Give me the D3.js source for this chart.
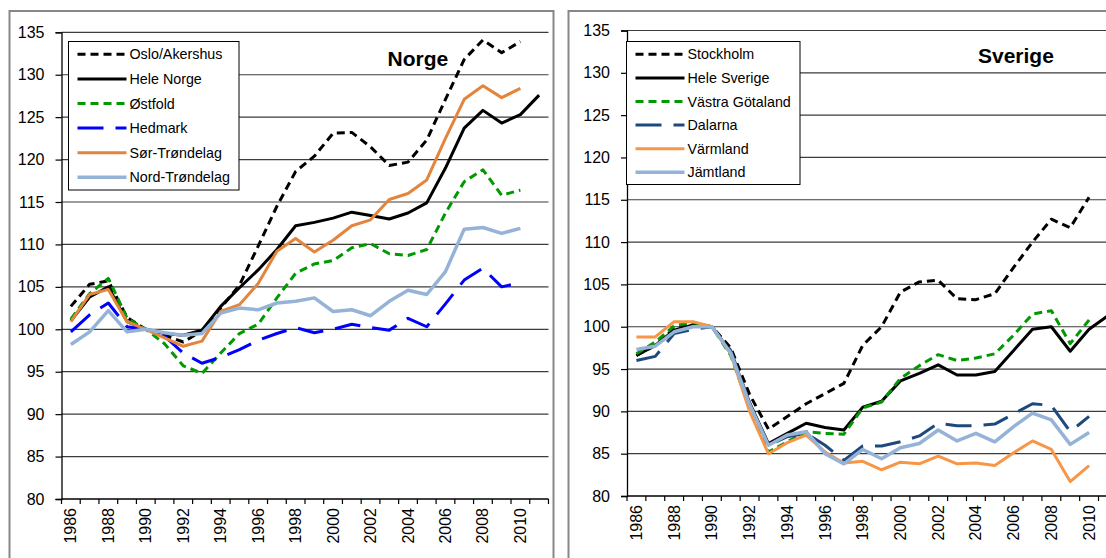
<!DOCTYPE html>
<html><head><meta charset="utf-8">
<script src="https://cdn.jsdelivr.net/npm/d3@7"></script>
<style>
html,body{margin:0;padding:0;background:#fff;}
svg{display:block;font-family:"Liberation Sans",Arial,sans-serif;}
</style></head>
<body>
<svg id="c" width="1106" height="558"></svg>
<script>
// ---------- DATA ----------
const years = d3.range(1986, 2012);
const yTicks = [80, 85, 90, 95, 100, 105, 110, 115, 120, 125, 130, 135];
const xTickLabels = [1986,1988,1990,1992,1994,1996,1998,2000,2002,2004,2006,2008,2010];

const norgeNames = ["Oslo/Akershus","Hele Norge","Østfold","Hedmark","Sør-Trøndelag","Nord-Trøndelag"];
const osloAkershus = [102.7,105.3,105.7,101.4,100,99.3,98.5,99.8,102.5,105.2,109.8,114.5,118.6,120.4,123.1,123.2,121.5,119.3,119.7,122.3,127.1,131.8,134.1,132.6,133.9,null];
const heleNorge    = [101.0,103.8,105.0,100.9,100,99.5,99.3,99.9,102.7,104.9,107.0,109.4,112.2,112.6,113.1,113.8,113.4,113.0,113.7,114.9,119.0,123.7,125.8,124.3,125.3,127.6];
const ostfold      = [101.2,104.2,106.0,101.3,100,98.3,95.7,94.8,97.2,99.5,100.6,103.7,106.6,107.7,108.1,109.6,110.1,108.9,108.7,109.4,113.7,117.4,118.8,115.8,116.4,null];
const hedmark      = [99.7,101.7,103.1,100.3,100,99.2,97.2,96.0,96.7,97.6,98.7,99.5,100.2,99.6,100.0,100.6,100.2,99.9,101.3,100.3,103.0,105.8,107.2,105.0,105.5,null];
const sorTrondelag = [100.9,104.1,104.7,100.9,100,99.0,98.0,98.6,102.1,102.9,105.4,109.2,110.7,109.1,110.5,112.2,112.9,115.3,116.0,117.6,122.5,127.1,128.7,127.3,128.4,null];
const nordTrondelag= [98.2,99.7,102.2,99.7,100,99.6,99.3,99.5,101.9,102.5,102.3,103.1,103.3,103.7,102.1,102.3,101.6,103.3,104.6,104.1,106.8,111.8,112.0,111.3,111.9,null];

const sverigeNames = ["Stockholm","Hele Sverige","Västra Götaland","Dalarna","Värmland","Jämtland"];
const stockholm      = [96.6,97.8,99.8,100.3,100,97.5,92.0,87.9,89.4,90.9,92.1,93.3,97.8,100.0,104.1,105.3,105.5,103.3,103.2,103.9,107.0,110.0,112.7,111.7,115.3,null];
const heleSverige    = [96.6,97.8,99.6,100.2,100,97.0,91.0,86.2,87.4,88.6,88.1,87.8,90.5,91.2,93.6,94.5,95.5,94.3,94.3,94.7,97.2,99.7,100.0,97.1,99.7,101.3];
const vastraGotaland = [96.8,98.2,100.1,100.5,100,96.6,90.4,85.2,86.4,87.6,87.4,87.3,90.4,91.1,93.9,95.4,96.7,96.0,96.3,96.8,99.0,101.5,101.9,98.0,100.8,null];
const dalarna        = [96.0,96.5,99.2,99.7,100,97.2,91.0,86.0,87.0,87.4,86.0,84.2,85.9,85.9,86.4,87.1,88.6,88.3,88.3,88.5,89.7,90.9,90.7,87.6,89.4,null];
const varmland       = [98.8,98.8,100.6,100.6,100,96.8,90.0,85.0,86.3,87.2,85.2,83.9,84.1,83.1,84.0,83.8,84.7,83.8,83.9,83.6,85.1,86.5,85.5,81.7,83.6,null];
const jamtland       = [97.3,97.7,99.4,100.0,100,96.9,90.8,86.0,87.2,87.6,85.0,83.8,85.5,84.4,85.7,86.2,87.8,86.5,87.4,86.4,88.2,89.8,89.0,86.1,87.5,null];

// ---------- STYLES ----------
const styleNorge = [
  {color:"#000000", dash:"8,5", w:3},
  {color:"#000000", dash:null, w:3},
  {color:"#009A00", dash:"8,5", w:3},
  {color:"#0000FF", dash:"26,12", w:3},
  {color:"#E3853C", dash:null, w:3},
  {color:"#95B3D7", dash:null, w:3.5}
];
const styleSverige = [
  {color:"#000000", dash:"8,5", w:3},
  {color:"#000000", dash:null, w:3},
  {color:"#009A00", dash:"8,5", w:3},
  {color:"#1F497D", dash:"26,12", w:3},
  {color:"#F79646", dash:null, w:3},
  {color:"#95B3D7", dash:null, w:3.5}
];

const svg = d3.select("#c");

function chart(cfg){
  const g = svg.append("g");
  // outer chart border
  g.append("rect").attr("x",cfg.bx).attr("y",11).attr("width",cfg.bw).attr("height",700)
    .attr("fill","#fff").attr("stroke","#878787").attr("stroke-width",2);

  const x = d3.scaleBand().domain(years).range([cfg.x0, cfg.x0 + 26*cfg.step]);
  const y = d3.scaleLinear().domain([80,135]).range([cfg.yb, cfg.yt]);

  // gridlines
  g.append("g").selectAll("line").data(yTicks.filter(v=>v>80)).join("line")
    .attr("x1",cfg.x0).attr("x2",cfg.x0+26*cfg.step)
    .attr("y1",d=>y(d)).attr("y2",d=>y(d))
    .attr("stroke","#3c3c3c").attr("stroke-width",1.2);

  // y axis
  const ya = g.append("g").attr("transform",`translate(${cfg.x0},0)`)
    .call(d3.axisLeft(y).tickValues(yTicks).tickSize(6).tickPadding(11).tickFormat(d3.format("d")));
  ya.select(".domain").attr("stroke","#000").attr("stroke-width",1.3);
  ya.selectAll(".tick line").attr("stroke","#000").attr("stroke-width",1.2);
  ya.selectAll("text").attr("font-size",16).attr("fill","#000")
    .attr("font-family","'Liberation Sans',Arial,sans-serif");

  // x axis line + ticks at category boundaries
  const xa = g.append("g");
  xa.append("line").attr("x1",cfg.x0).attr("x2",cfg.x0+26*cfg.step)
    .attr("y1",cfg.yb).attr("y2",cfg.yb).attr("stroke","#000").attr("stroke-width",1.3);
  xa.selectAll("line.t").data(d3.range(0,27)).join("line").attr("class","t")
    .attr("x1",i=>cfg.x0+i*x.step()).attr("x2",i=>cfg.x0+i*x.step())
    .attr("y1",cfg.yb).attr("y2",cfg.yb+5).attr("stroke","#000").attr("stroke-width",1.2);
  xa.selectAll("text").data(xTickLabels).join("text")
    .attr("transform",d=>`translate(${x(d)+x.bandwidth()/2+5.5},${cfg.yb+9}) rotate(-90)`)
    .attr("text-anchor","end").attr("font-size",16).attr("fill","#000").text(d=>d);

  // series
  const line = d3.line().defined(d=>d.v!=null)
    .x(d=>x(d.year)+x.bandwidth()/2).y(d=>y(d.v));
  cfg.series.forEach((s,i)=>{
    const st = cfg.styles[i];
    const pts = years.map((yr,k)=>({year:yr, v:s[k]}));
    g.append("path").datum(pts).attr("d",line).attr("fill","none")
      .attr("stroke",st.color).attr("stroke-width",st.w)
      .attr("stroke-dasharray",st.dash).attr("stroke-linejoin","round");
  });

  // legend
  const lg = g.append("g");
  lg.append("rect").attr("x",cfg.lx).attr("y",41.5).attr("width",cfg.lw).attr("height",cfg.lh)
    .attr("fill","#fff").attr("stroke","#000").attr("stroke-width",1);
  cfg.names.forEach((n,i)=>{
    const st = cfg.styles[i];
    const yy = cfg.ly0 + i*cfg.ldy;
    lg.append("line").attr("x1",cfg.lx+9).attr("x2",cfg.lx+58).attr("y1",yy).attr("y2",yy)
      .attr("stroke",st.color).attr("stroke-width",st.w).attr("stroke-dasharray",st.dash);
    lg.append("text").attr("x",cfg.lx+61).attr("y",yy+5).attr("font-size",14.3)
      .attr("fill","#000").text(n);
  });

  // title
  g.append("text").attr("x",cfg.tx).attr("y",cfg.ty).attr("font-size",21)
    .attr("font-weight","bold").attr("fill","#000").text(cfg.title);
}

chart({bx:9.5, bw:544, x0:61.5, step:18.73, yt:32.3, yb:499,
  series:[osloAkershus,heleNorge,ostfold,hedmark,sorTrondelag,nordTrondelag],
  styles:styleNorge, names:norgeNames,
  lx:68.5, lw:170.5, lh:148.5, ly0:54.3, ldy:24.6,
  title:"Norge", tx:387.5, ty:66});

chart({bx:568.5, bw:700, x0:627, step:18.86, yt:30.5, yb:496,
  series:[stockholm,heleSverige,vastraGotaland,dalarna,varmland,jamtland],
  styles:styleSverige, names:sverigeNames,
  lx:626.5, lw:173.5, lh:143, ly0:54.3, ldy:23.6,
  title:"Sverige", tx:978, ty:63});
</script>
</body></html>
